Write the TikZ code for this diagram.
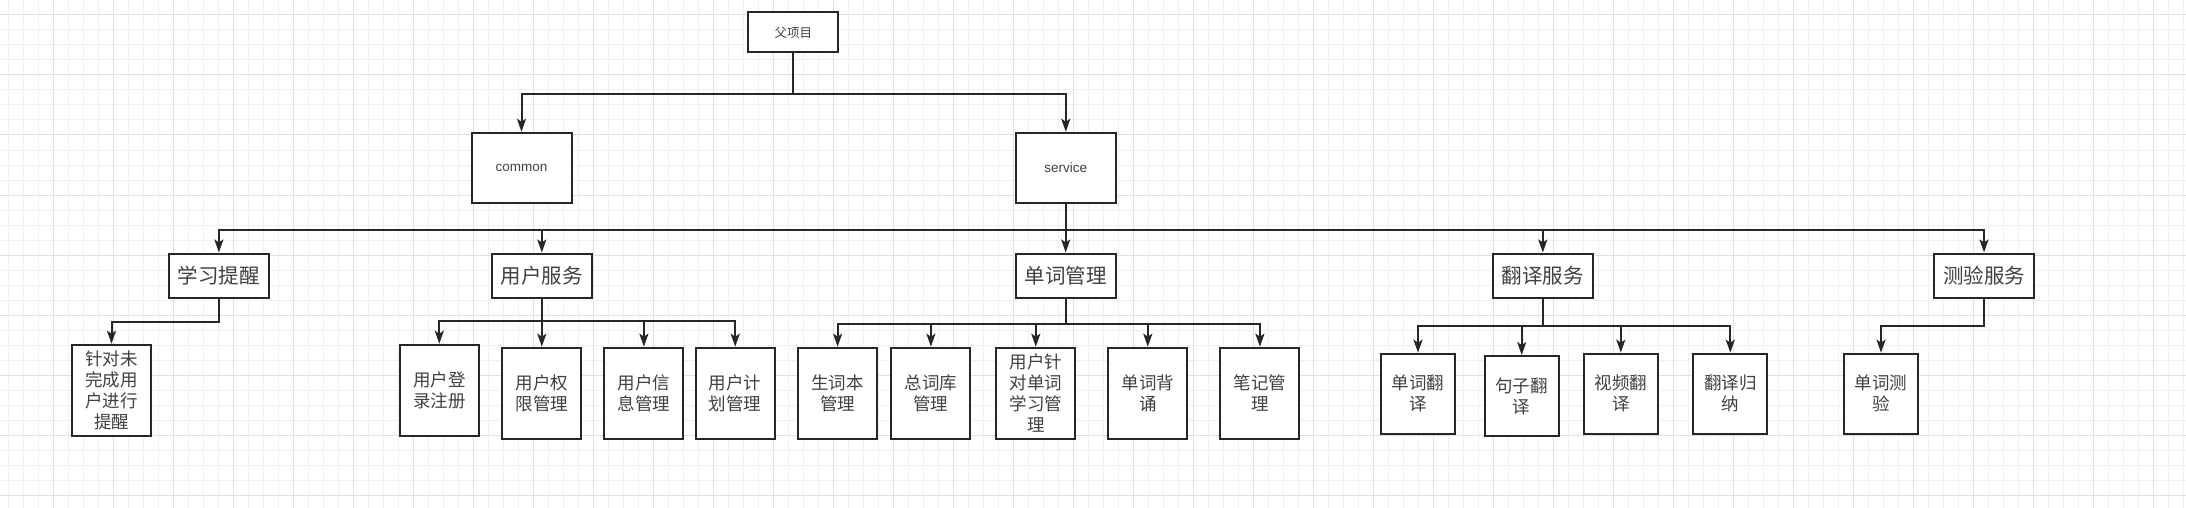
\documentclass[tikz,border=0pt]{standalone}
\usepackage{fontspec}
\setmainfont{Liberation Sans}
\newfontfamily\cjk{Noto Sans CJK SC}
\usetikzlibrary{arrows.meta}

\begin{document}
\begin{tikzpicture}[x=1pt,y=-1pt]
\tikzset{gridminor/.style={draw=black!6, line width=1pt}}
\tikzset{gridmajor/.style={draw=black!12, line width=1pt}}
\tikzset{box/.style={draw=black!85, line width=2pt, fill=white, inner sep=0pt, align=center, text=black!75}}
\tikzset{rootbox/.style={box, minimum width=90pt, minimum height=40pt, font=\cjk\fontsize{12.5}{15}\selectfont}}
\tikzset{module/.style={box, minimum width=100pt, minimum height=70pt, font=\fontsize{13.5}{16}\selectfont}}
\tikzset{group/.style={box, minimum width=100pt, minimum height=44pt, font=\cjk\fontsize{20.5}{24}\selectfont}}
\tikzset{func/.style={box, minimum width=79pt, minimum height=91.6pt, font=\cjk\fontsize{17.5}{21}\selectfont}}
\tikzset{subfunc/.style={func, minimum width=74pt, minimum height=80.3pt}}
\tikzset{link/.style={draw=black!85, line width=2pt, -{Stealth[length=13pt,width=9pt,inset=3pt]}}}
\useasboundingbox (0,0) rectangle (2186,508);
\fill[white] (0,0) rectangle (2186,508);
\foreach \x in {8,23,...,2186} \draw[gridminor] (\x,0) -- (\x,508);
\foreach \y in {0,15,...,508} \draw[gridminor] (0,\y) -- (2186,\y);
\foreach \x in {53,113,...,2186} \draw[gridmajor] (\x,0) -- (\x,508);
\foreach \y in {15,75,...,508} \draw[gridmajor] (0,\y) -- (2186,\y);
\node[rootbox] (root) at (793.4,32.5) {父项目};
\node[module] (common) at (521.5,167.8) {common};
\node[module] (service) at (1065.8,167.8) {service};
\node[group] (remind) at (218.9,275.5) {学习提醒};
\node[group] (user) at (541.8,275.5) {用户服务};
\node[group] (word) at (1065.7,275.5) {单词管理};
\node[group] (trans) at (1542.8,275.5) {翻译服务};
\node[group] (test) at (1984,275.5) {测验服务};
\node[func] (remind1) at (111.5,390.5) {针对未\\完成用\\户进行\\提醒};
\node[func] (user1) at (439.3,390.5) {用户登\\录注册};
\node[func] (user2) at (541.8,393.5) {用户权\\限管理};
\node[func] (user3) at (643.9,393.5) {用户信\\息管理};
\node[func] (user4) at (735.2,393.5) {用户计\\划管理};
\node[func] (word1) at (837.6,393.5) {生词本\\管理};
\node[func] (word2) at (930.9,393.5) {总词库\\管理};
\node[func] (word3) at (1035.8,393.5) {用户针\\对单词\\学习管\\理};
\node[func] (word4) at (1147.8,393.5) {单词背\\诵};
\node[func] (word5) at (1259.9,393.5) {笔记管\\理};
\node[subfunc] (trans1) at (1418,393.8) {单词翻\\译};
\node[subfunc] (trans2) at (1521.7,396.2) {句子翻\\译};
\node[subfunc] (trans3) at (1620.8,393.8) {视频翻\\译};
\node[subfunc] (trans4) at (1730.3,393.8) {翻译归\\纳};
\node[subfunc] (test1) at (1881,393.8) {单词测\\验};
\foreach \n in {common,service} \draw[link] (root.south) -- ++(0,40.4) -| (\n.north);
\foreach \n in {remind,user,word,trans,test} \draw[link] (service.south) -- ++(0,25.7) -| (\n.north);
\draw[link] (remind.south) -- ++(0,23.4) -| (remind1.north);
\foreach \n in {user1,user2,user3,user4} \draw[link] (user.south) -- ++(0,22.7) -| (\n.north);
\foreach \n in {word1,word2,word3,word4,word5} \draw[link] (word.south) -- ++(0,25.4) -| (\n.north);
\foreach \n in {trans1,trans2,trans3,trans4} \draw[link] (trans.south) -- ++(0,27.7) -| (\n.north);
\draw[link] (test.south) -- ++(0,27.7) -| (test1.north);
\end{tikzpicture}
\end{document}
